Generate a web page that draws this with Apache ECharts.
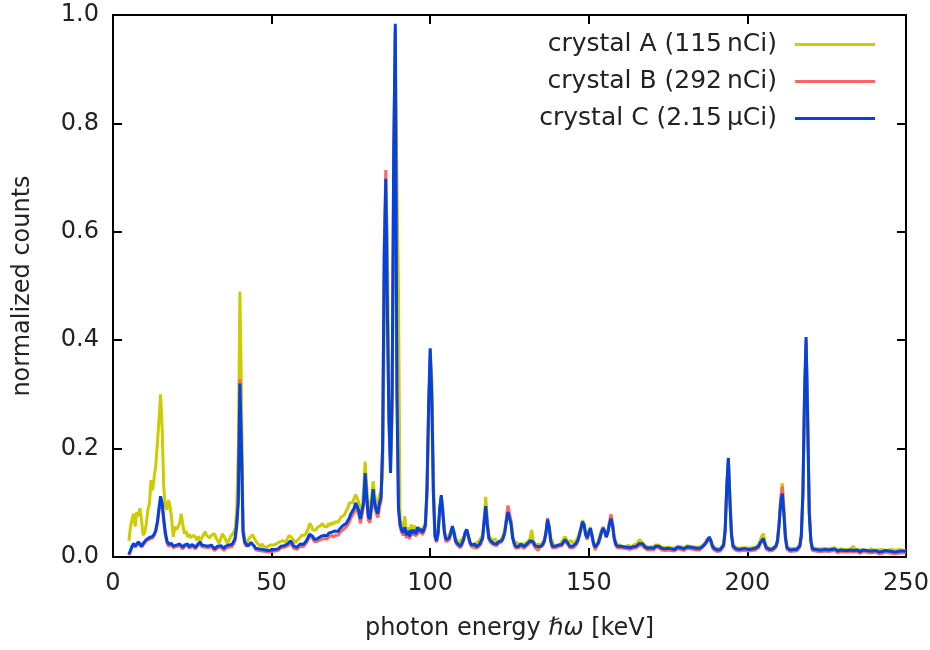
<!DOCTYPE html>
<html>
<head>
<meta charset="utf-8">
<script src="https://cdn.jsdelivr.net/npm/echarts@6/dist/echarts.min.js"></script>
<style>
html,body{margin:0;padding:0;background:#fff;}
#chart{width:930px;height:650px;}
</style>
</head>
<body>
<div id="chart"></div>
<script>
// energy grid: 5 keV to 250 keV in 0.5 keV bins
const E_START = 5, E_STEP = 0.5;

const seriesNames = ["crystal A (115\u2009nCi)", "crystal B (292\u2009nCi)", "crystal C (2.15\u2009\u00B5Ci)"];
const xTicks = [0, 50, 100, 150, 200, 250];
const yTicks = [0.0, 0.2, 0.4, 0.6, 0.8, 1.0];

// crystal A (yellow)
const countsA = [
/*  5 */ 0.03,0.055,0.07,0.08,0.056,0.083,0.075,0.09,0.068,0.04,
/* 10 */ 0.045,0.062,0.087,0.099,0.142,0.123,0.148,0.17,0.21,0.253,
/* 15 */ 0.30,0.235,0.13,0.093,0.087,0.105,0.093,0.07,0.037,0.056,
/* 20 */ 0.05,0.056,0.062,0.08,0.06,0.043,0.048,0.037,0.042,0.036,
/* 25 */ 0.034,0.04,0.036,0.031,0.038,0.031,0.035,0.04,0.047,0.04,
/* 30 */ 0.037,0.035,0.04,0.038,0.043,0.035,0.03,0.025,0.035,0.043,
/* 35 */ 0.04,0.032,0.025,0.03,0.037,0.035,0.045,0.052,0.087,0.2,
/* 40 */ 0.49,0.3,0.06,0.031,0.025,0.03,0.035,0.037,0.041,0.035,
/* 45 */ 0.03,0.025,0.022,0.02,0.024,0.019,0.021,0.018,0.02,0.022,
/* 50 */ 0.02,0.022,0.019,0.024,0.026,0.028,0.025,0.03,0.031,0.028,
/* 55 */ 0.034,0.04,0.037,0.035,0.03,0.026,0.03,0.033,0.036,0.04,
/* 60 */ 0.038,0.04,0.045,0.052,0.062,0.058,0.05,0.047,0.05,0.055,
/* 65 */ 0.052,0.058,0.062,0.057,0.06,0.055,0.062,0.058,0.064,0.06,
/* 70 */ 0.065,0.068,0.064,0.07,0.074,0.072,0.078,0.085,0.09,0.1,
/* 75 */ 0.102,0.1,0.108,0.115,0.118,0.1,0.085,0.08,0.125,0.176,
/* 80 */ 0.13,0.09,0.085,0.11,0.14,0.115,0.1,0.095,0.115,0.12,
/* 85 */ 0.15,0.4,0.677,0.6,0.3,0.18,0.25,0.6,0.97,0.7,
/* 90 */ 0.49,0.07,0.05,0.06,0.075,0.045,0.055,0.04,0.06,0.05,
/* 95 */ 0.058,0.045,0.04,0.055,0.048,0.05,0.055,0.065,0.11,0.25,
/*100 */ 0.38,0.33,0.15,0.045,0.035,0.05,0.08,0.11,0.09,0.05,
/*105 */ 0.035,0.038,0.04,0.05,0.052,0.048,0.035,0.03,0.025,0.03,
/*110 */ 0.028,0.035,0.042,0.048,0.045,0.03,0.02,0.022,0.015,0.025,
/*115 */ 0.025,0.03,0.03,0.04,0.07,0.111,0.07,0.04,0.035,0.03,
/*120 */ 0.03,0.033,0.028,0.03,0.028,0.035,0.04,0.05,0.07,0.09,
/*125 */ 0.088,0.065,0.04,0.028,0.025,0.026,0.022,0.025,0.024,0.022,
/*130 */ 0.025,0.028,0.03,0.035,0.05,0.03,0.025,0.02,0.024,0.022,
/*135 */ 0.022,0.025,0.032,0.048,0.066,0.058,0.035,0.03,0.02,0.022,
/*140 */ 0.022,0.025,0.023,0.028,0.03,0.038,0.04,0.028,0.025,0.03,
/*145 */ 0.025,0.028,0.03,0.035,0.045,0.055,0.068,0.06,0.045,0.038,
/*150 */ 0.048,0.055,0.042,0.028,0.012,0.022,0.03,0.04,0.05,0.055,
/*155 */ 0.05,0.04,0.045,0.062,0.07,0.058,0.038,0.028,0.022,0.02,
/*160 */ 0.022,0.018,0.02,0.018,0.02,0.022,0.019,0.017,0.022,0.025,
/*165 */ 0.024,0.025,0.032,0.03,0.026,0.022,0.02,0.018,0.02,0.019,
/*170 */ 0.02,0.018,0.022,0.025,0.022,0.02,0.018,0.02,0.017,0.019,
/*175 */ 0.018,0.02,0.017,0.019,0.016,0.018,0.02,0.017,0.019,0.018,
/*180 */ 0.017,0.019,0.021,0.018,0.02,0.017,0.019,0.016,0.018,0.02,
/*185 */ 0.018,0.02,0.022,0.025,0.028,0.032,0.035,0.03,0.022,0.018,
/*190 */ 0.016,0.015,0.017,0.016,0.018,0.024,0.055,0.13,0.175,0.11,
/*195 */ 0.045,0.022,0.019,0.017,0.018,0.016,0.018,0.017,0.015,0.017,
/*200 */ 0.017,0.016,0.018,0.017,0.02,0.018,0.017,0.022,0.03,0.038,
/*205 */ 0.043,0.03,0.019,0.017,0.016,0.018,0.017,0.019,0.022,0.032,
/*210 */ 0.065,0.11,0.136,0.09,0.04,0.019,0.016,0.015,0.017,0.016,
/*215 */ 0.017,0.016,0.018,0.022,0.04,0.11,0.28,0.39,0.26,0.09,
/*220 */ 0.035,0.017,0.015,0.016,0.014,0.015,0.013,0.015,0.014,0.016,
/*225 */ 0.014,0.015,0.013,0.016,0.014,0.017,0.015,0.013,0.014,0.015,
/*230 */ 0.013,0.014,0.016,0.014,0.012,0.015,0.013,0.02,0.012,0.015,
/*235 */ 0.014,0.012,0.013,0.015,0.013,0.014,0.012,0.013,0.015,0.013,
/*240 */ 0.012,0.014,0.013,0.011,0.014,0.012,0.013,0.014,0.012,0.013,
/*245 */ 0.014,0.012,0.013,0.011,0.013,0.012,0.014,0.013,0.012,0.013,
/*250 */ 0.012
];

// crystal B (red)
const countsB = [
/*  5 */ 0.003,0.01,0.018,0.022,0.018,0.02,0.025,0.022,0.018,0.022,
/* 10 */ 0.025,0.03,0.028,0.033,0.03,0.035,0.04,0.048,0.062,0.085,
/* 15 */ 0.105,0.095,0.065,0.04,0.026,0.02,0.018,0.022,0.017,0.02,
/* 20 */ 0.019,0.016,0.021,0.018,0.015,0.019,0.017,0.021,0.016,0.018,
/* 25 */ 0.02,0.017,0.015,0.019,0.022,0.025,0.019,0.016,0.018,0.015,
/* 30 */ 0.017,0.014,0.019,0.016,0.012,0.015,0.017,0.014,0.018,0.015,
/* 35 */ 0.012,0.016,0.014,0.018,0.02,0.019,0.024,0.03,0.055,0.12,
/* 40 */ 0.328,0.21,0.05,0.025,0.02,0.018,0.022,0.026,0.028,0.02,
/* 45 */ 0.013,0.01,0.012,0.009,0.011,0.008,0.01,0.012,0.009,0.011,
/* 50 */ 0.01,0.013,0.011,0.014,0.012,0.015,0.017,0.014,0.018,0.016,
/* 55 */ 0.02,0.024,0.026,0.021,0.016,0.018,0.014,0.017,0.02,0.018,
/* 60 */ 0.019,0.022,0.026,0.032,0.038,0.04,0.034,0.028,0.025,0.029,
/* 65 */ 0.028,0.032,0.03,0.034,0.036,0.033,0.037,0.035,0.04,0.036,
/* 70 */ 0.04,0.043,0.04,0.045,0.048,0.05,0.048,0.055,0.058,0.064,
/* 75 */ 0.072,0.077,0.082,0.092,0.095,0.078,0.062,0.06,0.095,0.15,
/* 80 */ 0.105,0.068,0.063,0.088,0.12,0.093,0.08,0.073,0.092,0.102,
/* 85 */ 0.21,0.57,0.714,0.46,0.26,0.16,0.3,0.74,0.975,0.35,
/* 90 */ 0.09,0.055,0.045,0.04,0.05,0.035,0.043,0.033,0.045,0.04,
/* 95 */ 0.045,0.038,0.05,0.044,0.048,0.041,0.046,0.056,0.125,0.27,
/*100 */ 0.37,0.29,0.115,0.036,0.027,0.042,0.088,0.112,0.078,0.042,
/*105 */ 0.028,0.026,0.032,0.042,0.054,0.042,0.027,0.022,0.019,0.017,
/*110 */ 0.022,0.03,0.043,0.05,0.038,0.025,0.019,0.017,0.021,0.016,
/*115 */ 0.018,0.02,0.024,0.033,0.063,0.092,0.058,0.033,0.027,0.025,
/*120 */ 0.022,0.024,0.021,0.025,0.023,0.028,0.034,0.046,0.07,0.095,
/*125 */ 0.098,0.066,0.036,0.022,0.016,0.019,0.017,0.021,0.018,0.016,
/*130 */ 0.019,0.021,0.023,0.027,0.03,0.025,0.018,0.019,0.012,0.018,
/*135 */ 0.017,0.021,0.028,0.044,0.072,0.056,0.028,0.017,0.015,0.017,
/*140 */ 0.016,0.019,0.017,0.021,0.026,0.03,0.033,0.022,0.017,0.019,
/*145 */ 0.017,0.019,0.022,0.028,0.038,0.05,0.063,0.058,0.04,0.032,
/*150 */ 0.043,0.05,0.038,0.022,0.015,0.017,0.024,0.033,0.045,0.055,
/*155 */ 0.048,0.036,0.046,0.065,0.079,0.062,0.034,0.021,0.017,0.015,
/*160 */ 0.017,0.014,0.016,0.013,0.015,0.017,0.014,0.012,0.016,0.014,
/*165 */ 0.017,0.019,0.022,0.025,0.021,0.017,0.015,0.013,0.016,0.014,
/*170 */ 0.015,0.013,0.017,0.019,0.017,0.016,0.013,0.015,0.012,0.014,
/*175 */ 0.013,0.015,0.012,0.014,0.011,0.013,0.015,0.012,0.014,0.013,
/*180 */ 0.012,0.014,0.016,0.013,0.015,0.012,0.014,0.011,0.013,0.015,
/*185 */ 0.013,0.016,0.019,0.023,0.03,0.034,0.036,0.027,0.017,0.013,
/*190 */ 0.011,0.01,0.012,0.011,0.013,0.02,0.048,0.13,0.18,0.105,
/*195 */ 0.038,0.017,0.014,0.012,0.013,0.011,0.013,0.012,0.01,0.012,
/*200 */ 0.012,0.011,0.013,0.012,0.015,0.013,0.012,0.017,0.023,0.028,
/*205 */ 0.032,0.022,0.014,0.012,0.011,0.013,0.012,0.014,0.018,0.028,
/*210 */ 0.062,0.105,0.13,0.085,0.033,0.014,0.011,0.01,0.012,0.011,
/*215 */ 0.012,0.011,0.013,0.018,0.038,0.115,0.29,0.4,0.27,0.085,
/*220 */ 0.028,0.012,0.01,0.011,0.009,0.01,0.008,0.01,0.009,0.011,
/*225 */ 0.009,0.01,0.008,0.011,0.009,0.012,0.01,0.008,0.009,0.01,
/*230 */ 0.008,0.009,0.011,0.009,0.007,0.01,0.008,0.009,0.007,0.01,
/*235 */ 0.009,0.007,0.008,0.01,0.008,0.009,0.007,0.008,0.01,0.008,
/*240 */ 0.007,0.009,0.008,0.006,0.009,0.007,0.008,0.009,0.007,0.008,
/*245 */ 0.009,0.007,0.008,0.006,0.008,0.007,0.009,0.008,0.007,0.008,
/*250 */ 0.007
];

// crystal C (blue)
const countsC = [
/*  5 */ 0.005,0.012,0.02,0.025,0.02,0.022,0.028,0.024,0.02,0.025,
/* 10 */ 0.027,0.032,0.03,0.036,0.033,0.038,0.042,0.05,0.065,0.09,
/* 15 */ 0.112,0.1,0.07,0.045,0.03,0.024,0.022,0.025,0.02,0.023,
/* 20 */ 0.022,0.019,0.024,0.021,0.018,0.022,0.02,0.024,0.019,0.021,
/* 25 */ 0.023,0.02,0.018,0.022,0.025,0.028,0.022,0.019,0.021,0.018,
/* 30 */ 0.02,0.017,0.022,0.019,0.015,0.018,0.02,0.017,0.021,0.018,
/* 35 */ 0.016,0.02,0.018,0.022,0.025,0.023,0.028,0.035,0.06,0.1,
/* 40 */ 0.32,0.2,0.045,0.028,0.024,0.02,0.023,0.027,0.025,0.02,
/* 45 */ 0.016,0.013,0.015,0.012,0.014,0.011,0.013,0.015,0.012,0.014,
/* 50 */ 0.013,0.016,0.014,0.017,0.015,0.018,0.02,0.017,0.021,0.019,
/* 55 */ 0.024,0.027,0.03,0.025,0.02,0.022,0.018,0.021,0.024,0.022,
/* 60 */ 0.023,0.026,0.03,0.036,0.042,0.045,0.038,0.032,0.03,0.034,
/* 65 */ 0.033,0.038,0.036,0.04,0.042,0.039,0.044,0.041,0.046,0.043,
/* 70 */ 0.048,0.05,0.047,0.052,0.055,0.058,0.056,0.062,0.065,0.072,
/* 75 */ 0.08,0.085,0.09,0.1,0.102,0.085,0.07,0.068,0.1,0.155,
/* 80 */ 0.11,0.075,0.07,0.095,0.125,0.1,0.087,0.08,0.1,0.11,
/* 85 */ 0.2,0.55,0.698,0.45,0.25,0.155,0.3,0.75,0.984,0.3,
/* 90 */ 0.09,0.06,0.05,0.045,0.055,0.04,0.048,0.038,0.05,0.044,
/* 95 */ 0.05,0.042,0.055,0.048,0.052,0.045,0.05,0.06,0.13,0.28,
/*100 */ 0.385,0.3,0.12,0.04,0.03,0.045,0.09,0.114,0.08,0.045,
/*105 */ 0.032,0.03,0.035,0.045,0.057,0.045,0.03,0.025,0.022,0.02,
/*110 */ 0.025,0.032,0.045,0.051,0.04,0.028,0.022,0.02,0.024,0.019,
/*115 */ 0.021,0.023,0.026,0.035,0.065,0.094,0.06,0.035,0.03,0.028,
/*120 */ 0.025,0.027,0.024,0.028,0.026,0.03,0.035,0.045,0.065,0.083,
/*125 */ 0.082,0.06,0.035,0.025,0.019,0.022,0.02,0.024,0.021,0.019,
/*130 */ 0.022,0.024,0.026,0.03,0.033,0.028,0.021,0.022,0.019,0.021,
/*135 */ 0.02,0.024,0.03,0.045,0.069,0.055,0.03,0.02,0.018,0.02,
/*140 */ 0.019,0.022,0.02,0.023,0.028,0.032,0.035,0.025,0.02,0.022,
/*145 */ 0.02,0.022,0.025,0.03,0.04,0.052,0.065,0.06,0.042,0.035,
/*150 */ 0.045,0.053,0.04,0.025,0.018,0.02,0.026,0.035,0.046,0.053,
/*155 */ 0.047,0.037,0.045,0.06,0.071,0.058,0.035,0.024,0.02,0.018,
/*160 */ 0.02,0.017,0.019,0.016,0.018,0.02,0.017,0.015,0.019,0.017,
/*165 */ 0.02,0.022,0.025,0.028,0.024,0.02,0.018,0.016,0.019,0.017,
/*170 */ 0.018,0.016,0.02,0.022,0.02,0.019,0.016,0.018,0.015,0.017,
/*175 */ 0.016,0.018,0.015,0.017,0.014,0.016,0.018,0.015,0.017,0.016,
/*180 */ 0.015,0.017,0.019,0.016,0.018,0.015,0.017,0.014,0.016,0.018,
/*185 */ 0.016,0.018,0.02,0.022,0.026,0.032,0.037,0.03,0.02,0.016,
/*190 */ 0.014,0.013,0.015,0.014,0.016,0.022,0.05,0.13,0.183,0.1,
/*195 */ 0.04,0.02,0.017,0.015,0.016,0.014,0.016,0.015,0.013,0.015,
/*200 */ 0.015,0.014,0.016,0.015,0.018,0.016,0.015,0.02,0.026,0.03,
/*205 */ 0.034,0.025,0.017,0.015,0.014,0.016,0.015,0.017,0.02,0.03,
/*210 */ 0.06,0.1,0.117,0.08,0.035,0.017,0.014,0.013,0.015,0.014,
/*215 */ 0.015,0.014,0.016,0.02,0.04,0.12,0.3,0.406,0.25,0.08,
/*220 */ 0.03,0.015,0.013,0.014,0.012,0.013,0.011,0.013,0.012,0.014,
/*225 */ 0.012,0.013,0.011,0.014,0.012,0.015,0.013,0.011,0.012,0.013,
/*230 */ 0.011,0.012,0.014,0.012,0.01,0.013,0.011,0.012,0.01,0.013,
/*235 */ 0.012,0.01,0.011,0.013,0.011,0.012,0.01,0.011,0.013,0.011,
/*240 */ 0.01,0.012,0.011,0.009,0.012,0.01,0.011,0.012,0.01,0.011,
/*245 */ 0.012,0.01,0.011,0.009,0.011,0.01,0.012,0.011,0.01,0.011,
/*250 */ 0.01
];

const colors = ["#cccc00", "#ff6666", "#0044dd"];
const FONT = "DejaVu Sans";
const TXT = "#222";

function pairs(arr) {
  return arr.map((v, i) => [E_START + i * E_STEP, v]);
}

const chart = echarts.init(document.getElementById('chart'), null, {renderer: 'canvas'});

const axisLine = {show: true, onZero: false, lineStyle: {color: '#000', width: 2}};
const axisTickIn = {show: true, inside: true, length: 9, lineStyle: {color: '#000', width: 2}};

const option = {
  backgroundColor: '#fff',
  animation: false,
  grid: {left: 113, right: 24, top: 15, bottom: 93, containLabel: false, outerBoundsMode: 'none'},
  legend: {
    data: seriesNames,
    orient: 'vertical',
    right: 50,
    top: 27,
    align: 'right',
    itemWidth: 80,
    itemHeight: 3,
    itemGap: 12,
    icon: 'rect',
    textStyle: {fontFamily: FONT, fontSize: 25, color: TXT, padding: [0, 13, 0, 0]}
  },
  xAxis: [{
    type: 'value', min: xTicks[0], max: xTicks[xTicks.length - 1], interval: 50,
    position: 'bottom',
    axisLine: axisLine, axisTick: axisTickIn, splitLine: {show: false},
    axisLabel: {fontFamily: FONT, fontSize: 24, color: TXT, margin: 15},
    name: 'photon energy {i|\u210F\u03C9} [keV]',
    nameLocation: 'middle', nameGap: 60,
    nameTextStyle: {fontFamily: FONT, fontSize: 24, color: TXT,
      rich: {i: {fontFamily: FONT, fontSize: 24, fontStyle: 'italic', color: TXT}}}
  }, {
    type: 'value', min: xTicks[0], max: xTicks[xTicks.length - 1], interval: 50,
    position: 'top',
    axisLine: axisLine, axisTick: axisTickIn, splitLine: {show: false},
    axisLabel: {show: false}
  }],
  yAxis: [{
    type: 'value', min: yTicks[0], max: yTicks[yTicks.length - 1], interval: 0.2,
    position: 'left',
    axisLine: axisLine, axisTick: axisTickIn, splitLine: {show: false},
    axisLabel: {fontFamily: FONT, fontSize: 24, color: TXT, margin: 14,
      formatter: v => v.toFixed(1)},
    name: 'normalized counts',
    nameLocation: 'middle', nameGap: 78,
    nameTextStyle: {fontFamily: FONT, fontSize: 24, color: TXT}
  }, {
    type: 'value', min: yTicks[0], max: yTicks[yTicks.length - 1], interval: 0.2,
    position: 'right',
    axisLine: axisLine, axisTick: axisTickIn, splitLine: {show: false},
    axisLabel: {show: false}
  }],
  series: [countsA, countsB, countsC].map((arr, k) => ({
    name: seriesNames[k],
    type: 'line',
    xAxisIndex: 0, yAxisIndex: 0,
    data: pairs(arr),
    showSymbol: false,
    symbol: 'none',
    lineStyle: {color: colors[k], width: 3},
    itemStyle: {color: colors[k]},
    z: 2 + k
  }))
};

chart.setOption(option);
</script>
</body>
</html>
